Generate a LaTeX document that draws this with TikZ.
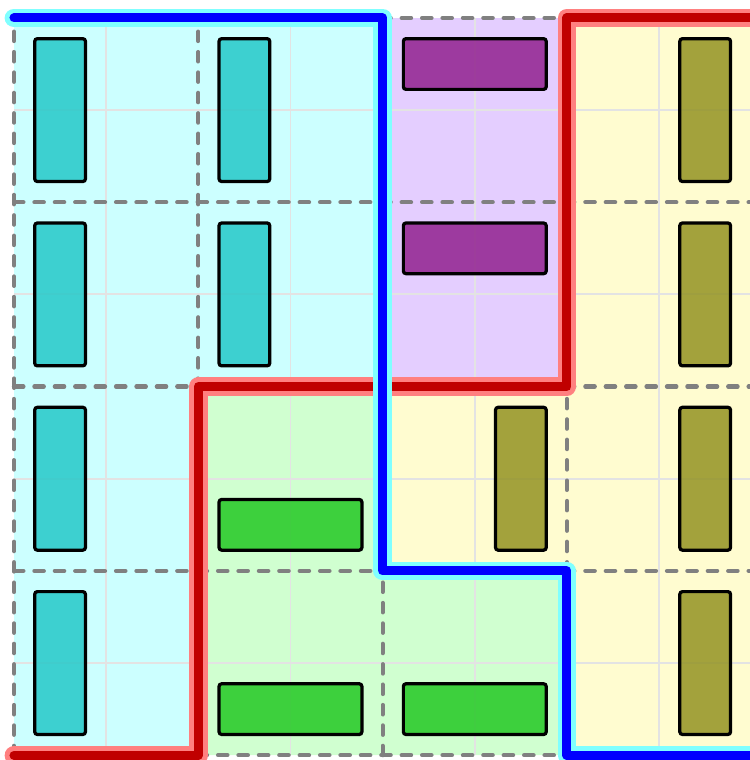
\documentclass[tikz,border=0pt]{standalone}
\usepackage{tikz}

\definecolor{cyanbg}{RGB}{204,255,255}
\definecolor{purplebg}{RGB}{228,206,255}
\definecolor{greenbg}{RGB}{208,255,208}
\definecolor{yellowbg}{RGB}{255,252,208}
\definecolor{cyanpc}{RGB}{36,200,200}
\definecolor{purplepc}{RGB}{145,33,143}
\definecolor{olivepc}{RGB}{147,147,35}
\definecolor{greenpc}{RGB}{36,200,36}
\definecolor{wallred}{RGB}{192,0,0}
\definecolor{wallredlight}{RGB}{255,128,128}
\definecolor{wallbluelight}{RGB}{128,255,255}

\begin{document}
\begin{tikzpicture}[scale=1,
    piece/.style={draw=black, line width=1pt, rounded corners=0.8pt, fill opacity=0.85},
    block/.style={gray, line width=1.3pt, dash pattern=on 2.9pt off 3.4pt, line cap=round},
    redwall/.style={draw=wallred, line width=2.8pt, line cap=round, line join=round,
        preaction={draw=wallredlight, line width=5.8pt, line cap=round, line join=round}},
    bluewall/.style={draw=blue, line width=2.8pt, line cap=round, line join=round,
        preaction={draw=wallbluelight, line width=5.8pt, line cap=round, line join=round}}
  ]
    \useasboundingbox (-0.152, -0.052) rectangle (7.976, 8.195);

    % Regions
    \fill[cyanbg] (0,0) -- (2,0) -- (2,4) -- (4,4) -- (4,8) -- (0,8) -- cycle;
    \fill[purplebg] (4,4) rectangle (6,8);
    \fill[greenbg] (2,0) -- (6,0) -- (6,2) -- (4,2) -- (4,4) -- (2,4) -- cycle;
    \fill[yellowbg] (4,2) -- (6,2) -- (6,0) -- (8.3,0) -- (8.3,8) -- (6,8) -- (6,4) -- (4,4) -- cycle;

    % Cell lines
    \foreach \k in {1,3,5,7} {
        \draw[gray!22, line width=0.6pt] (\k,0) -- (\k,8);
        \draw[gray!22, line width=0.6pt] (0,\k) -- (8.3,\k);
    }

    % 2x2 blocks
    \foreach \k in {0,2,4,6} {
        \draw[block] (\k,0) -- (\k,8);
    }
    \foreach \k in {0,2,4,6,8} {
        \draw[block] (0,\k) -- (8.3,\k);
    }

    % Vertical pieces
    \foreach \x/\y in {0/6, 0/4, 0/2, 0/0, 2/6, 2/4}
        \filldraw[piece, fill=cyanpc] (\x+0.225,\y+0.225) rectangle (\x+0.775,\y+1.775);
    \foreach \x/\y in {7/6, 7/4, 7/2, 7/0, 5/2}
        \filldraw[piece, fill=olivepc] (\x+0.225,\y+0.225) rectangle (\x+0.775,\y+1.775);

    % Horizontal pieces
    \foreach \x/\y in {4/7, 4/5}
        \filldraw[piece, fill=purplepc] (\x+0.225,\y+0.225) rectangle (\x+1.775,\y+0.775);
    \foreach \x/\y in {2/2, 2/0, 4/0}
        \filldraw[piece, fill=greenpc] (\x+0.225,\y+0.225) rectangle (\x+1.775,\y+0.775);

    % Walls
    \draw[redwall] (0,0) -- (2,0) -- (2,4) -- (6,4) -- (6,8) -- (8.3,8);
    \draw[bluewall] (0,8) -- (4,8) -- (4,2) -- (6,2) -- (6,0) -- (8.3,0);
\end{tikzpicture}
\end{document}
